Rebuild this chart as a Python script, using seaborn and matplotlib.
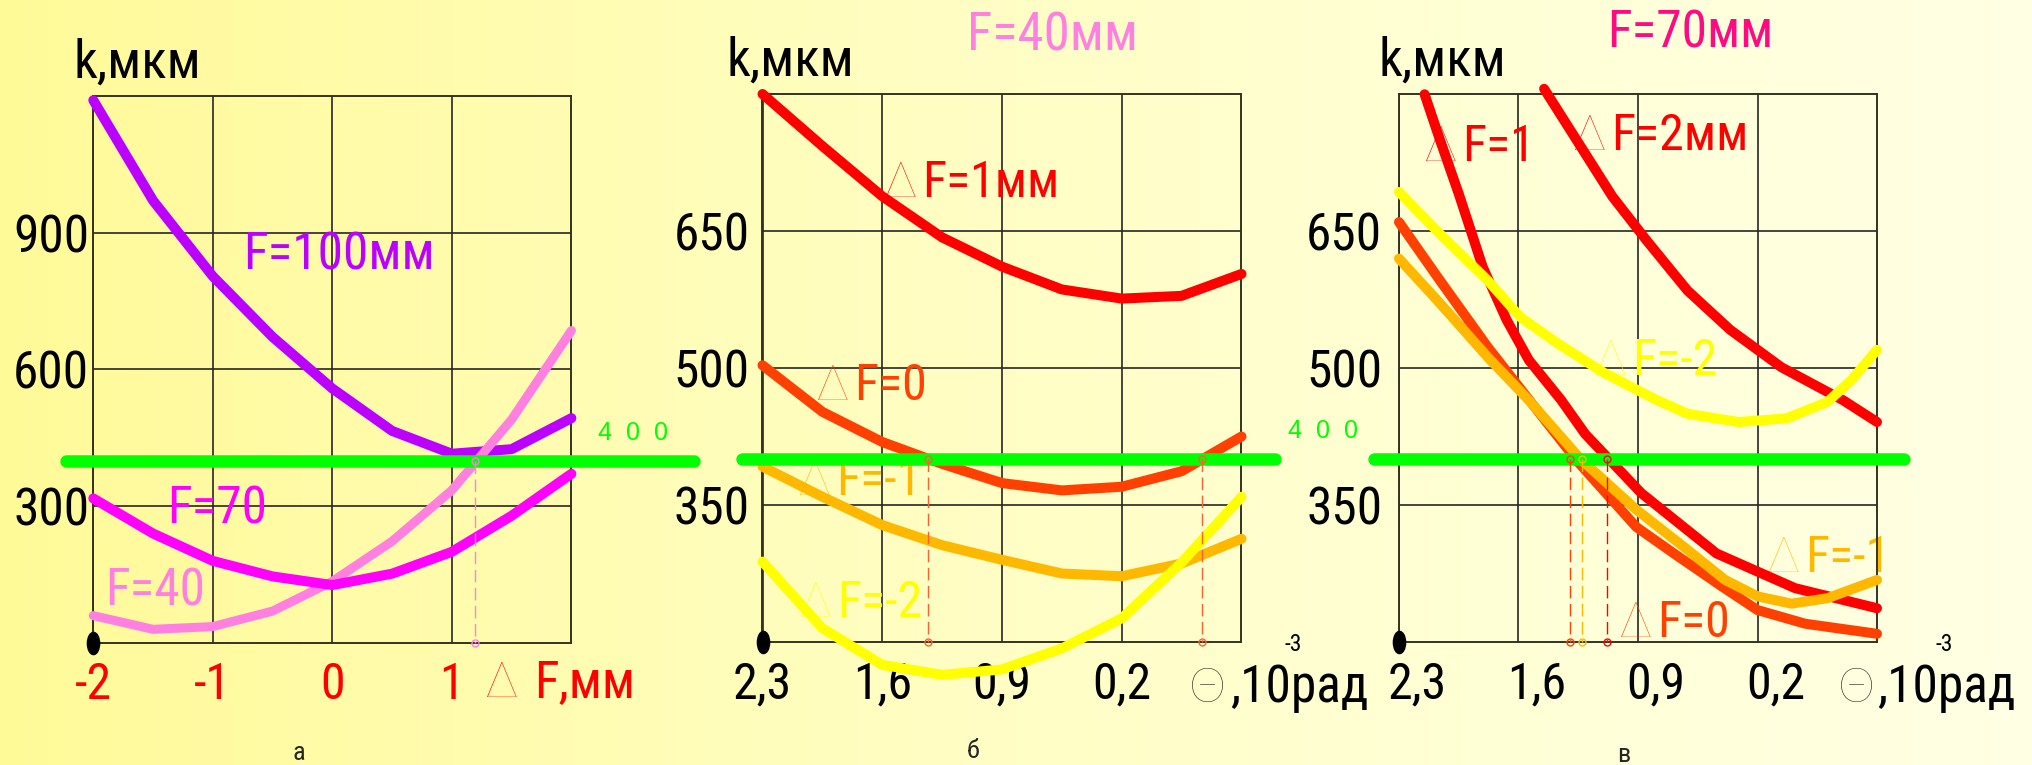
import matplotlib
matplotlib.use('Agg')
import numpy as np
import matplotlib.pyplot as plt
import matplotlib.transforms as mtransforms
from matplotlib import font_manager as fm
from matplotlib.path import Path
from matplotlib.colors import LinearSegmentedColormap
import seaborn as sns

# ---------------- данные, панель а: k(ΔF) ----------------
dF = [-2, -1.5, -1, -0.5, 0, 0.5, 1, 1.5, 2]
k_F100 = [1190, 970, 804, 671, 558, 465, 415, 425, 493]
k_F70 = [317, 240, 180, 146, 127, 152, 200, 279, 371]
k_F40 = [60, 30, 36, 70, 135, 223, 335, 490, 685]
dF_400_a = [1.19]

# ---------------- панель б: F=40 мм, k(Θ) ----------------
theta_b = [2.3, 1.95, 1.6, 1.25, 0.9, 0.55, 0.2, -0.15, -0.5]
b_dF1 = [800, 743, 688, 643, 611, 586, 576, 579, 603]
b_dF0 = [503, 452, 419, 395, 374, 366, 370, 387, 425]
b_dFm1 = [392, 359, 328, 306, 290, 275, 272, 286, 313]
b_dFm2 = [288, 215, 175, 164, 170, 193, 226, 287, 359]
theta_400_b = [1.33, -0.27]

# ---------------- панель в: F=70 мм, k(Θ) ----------------
c_th1 = [2.15, 2.06, 1.95, 1.81, 1.67, 1.54, 1.35, 1.21, 0.88, 0.44, -0.02, -0.5]
c_dF1 = [800, 750, 691, 611, 553, 509, 465, 428, 363, 297, 259, 237]
c_th2 = [1.45, 1.26, 1.05, 0.85, 0.61, 0.36, 0.06, -0.30, -0.5]
c_dF2 = [806, 750, 688, 640, 585, 542, 501, 465, 441]
c_th0 = [2.3, 2.06, 1.78, 1.26, 0.91, 0.69, 0.41, 0.20, -0.08, -0.5]
c_dF0 = [660, 596, 523, 399, 326, 297, 261, 235, 220, 209]
c_thm1 = [2.3, 2.06, 1.78, 1.54, 1.24, 0.91, 0.63, 0.39, 0.20, 0.0, -0.21, -0.5]
c_dFm1 = [620, 571, 512, 465, 401, 345, 304, 268, 250, 242, 248, 268]
c_thm2 = [2.3, 2.06, 1.78, 1.59, 1.37, 1.10, 0.80, 0.61, 0.31, 0.03, -0.21, -0.35, -0.5]
c_dFm2 = [693, 647, 596, 556, 527, 495, 466, 450, 441, 445, 463, 487, 520]
theta_400_c = [1.30, 1.23, 1.08]

LEVEL = 400
a_xticks = [-2, -1, 0, 1]
a_xlabels = ['-2', '-1', '0', '1']
a_yticks = [300, 600, 900]
th_ticks = [2.3, 1.6, 0.9, 0.2]
th_labels = ['2,3', '1,6', '0,9', '0,2']
th_yticks = [350, 500, 650]

C_RED = '#FF0000'
C_RORANGE = '#FF4000'
C_ORANGE = '#FFB800'
C_YELLOW = '#FFFF00'
C_PURPLE = '#BB00FF'
C_MAGENTA = '#FF00FF'
C_PINK = '#FF80E0'
C_GREEN = '#00FF00'

sns.set_style('white')


# узкий шрифт, если он есть; иначе обычный Liberation Sans чуть мельче
def pick_narrow():
    names = {f.name for f in fm.fontManager.ttflist}
    for p in ['Liberation Sans Narrow', 'Arial Narrow', 'Roboto Condensed',
              'Open Sans Condensed', 'Noto Sans Condensed']:
        if p in names:
            return p, 'normal'
    for fam in ['Liberation Sans', 'Roboto', 'Noto Sans', 'Open Sans', 'Inter']:
        for f in fm.fontManager.ttflist:
            if f.name == fam and 'condensed' in str(f.stretch) and f.weight in (400, 'normal', 'regular'):
                return fam, f.stretch
    return None, 'normal'


narrow_name, narrow_stretch = pick_narrow()
if narrow_name:
    NARROW = [narrow_name, 'Liberation Sans', 'DejaVu Sans']
    SCALE = 1.0
else:
    NARROW = ['Liberation Sans', 'DejaVu Sans']
    SCALE = 0.92
THIN = ['Lato', 'DejaVu Sans']
plt.rcParams['font.family'] = NARROW
plt.rcParams['font.stretch'] = narrow_stretch

FS = 37 * SCALE

W, H = 2033, 765
fig = plt.figure(figsize=(W / 100, H / 100), dpi=100)

# фон с градиентом
bg = fig.add_axes([0, 0, 1, 1], zorder=-10)
cmap = LinearSegmentedColormap.from_list('bg', ['#FFFA98', '#FFFDB8', '#FFFFD2', '#FFFFE4'])
bg.imshow(np.linspace(0, 1, 256)[None, :], aspect='auto', cmap=cmap, extent=[0, 1, 0, 1])
bg.axis('off')


def box(left, right, top, bottom):
    return [left / W, (H - bottom) / H, (right - left) / W, (bottom - top) / H]


ax_a = fig.add_axes(box(93.3, 571.4, 95.7, 643))
ax_b = fig.add_axes(box(762.5, 1241.5, 94, 642))
ax_c = fig.add_axes(box(1399, 1877, 94.3, 642))

dot = Path(Path.unit_circle().vertices * [0.55, 1.0], Path.unit_circle().codes)


def style(ax, xlim, ylim, xt, xl, yt, xcolor, ypad, klabel_x, xshift=0):
    ax.set_facecolor('none')
    ax.set_xlim(*xlim)
    ax.set_ylim(*ylim)
    ax.set_xticks(xt, xl)
    ax.set_yticks(yt, [str(v) for v in yt])
    ax.tick_params(axis='x', length=0, pad=13, labelsize=FS - 1, labelcolor=xcolor)
    ax.tick_params(axis='y', length=0, pad=ypad, labelsize=FS, labelcolor='black')
    ax.grid(True, color='#262626', lw=1.2)
    for s in ax.spines.values():
        s.set_visible(True)
        s.set_color('#333322')
        s.set_linewidth(1.4)
    if xshift:
        off = mtransforms.ScaledTranslation(xshift / 100, 0, fig.dpi_scale_trans)
        for lab in ax.get_xticklabels():
            lab.set_transform(lab.get_transform() + off)
    ax.set_xlabel('')
    ax.set_ylabel('')
    ax.plot([xlim[0]], [ylim[0]], marker=dot, ms=16, color='black', clip_on=False, zorder=7)
    ax.text(klabel_x, 1.034, 'k,мкм', transform=ax.transAxes,
            fontsize=FS + 1, ha='left', va='baseline', color='black')


def curve(ax, x, y, color, lw=7.2, z=3):
    sns.lineplot(x=x, y=y, ax=ax, color=color, lw=lw, sort=False, estimator=None,
                 solid_capstyle='round', solid_joinstyle='round', clip_on=False, zorder=z)


def threshold(ax, x0, x1, ymin, xs, colors, label_pos=None):
    ax.axhline(LEVEL, xmin=x0, xmax=x1, color=C_GREEN, lw=9, solid_capstyle='round',
               clip_on=False, zorder=4)
    for xc, c in zip(xs, colors):
        ax.plot([xc, xc], [LEVEL, ymin], ls=(0, (9, 4)), lw=1, color=c, zorder=5, clip_on=False)
        ax.plot([xc, xc], [LEVEL, ymin], ls='none', marker='o', ms=5, mfc='none', mec=c,
                mew=1, zorder=6, clip_on=False)
    if label_pos is not None:
        ax.text(label_pos[0], label_pos[1], '4  0  0', color=C_GREEN, fontsize=18,
                fontfamily=['Liberation Sans', 'DejaVu Sans'], fontstretch='normal',
                transform=mtransforms.blended_transform_factory(ax.transAxes, ax.transData),
                ha='left', va='baseline')


def dlabel(ax, x, y, text, color):
    ax.annotate('Δ', xy=(x, y), xytext=(-2, 0), textcoords='offset points', ha='right',
                va='baseline', color=color, fontsize=FS - 1, fontfamily=THIN, fontweight=100,
                zorder=1)
    ax.annotate(text, xy=(x, y), xytext=(2, 0), textcoords='offset points', ha='left',
                va='baseline', color=color, fontsize=FS - 1, zorder=1)


def xlabel_theta(ax, xth, xtext, sup_x):
    ax.text(xth, -0.109, 'Θ', transform=ax.transAxes, ha='right', va='baseline',
            fontsize=34, fontfamily=THIN, fontweight=100, color='black')
    ax.text(xtext, -0.109, ',10рад', transform=ax.transAxes, ha='left', va='baseline',
            fontsize=FS, color='black')
    ax.text(sup_x, -0.017, '-3', transform=ax.transAxes, ha='left', va='baseline',
            fontsize=17, color='black')


# ---------------- панель а ----------------
style(ax_a, (-2, 2), (0, 1200), a_xticks, a_xlabels, a_yticks, C_RED, 3, -0.042)
curve(ax_a, dF, k_F100, C_PURPLE)
curve(ax_a, dF, k_F40, C_PINK, lw=6.5)
curve(ax_a, dF, k_F70, C_MAGENTA)
threshold(ax_a, -0.057, 1.256, 0, dF_400_a, [C_PINK], label_pos=(1.056, 445))
ax_a.text(-0.747, 818, 'F=100мм', color=C_PURPLE, fontsize=FS, ha='left', va='baseline', zorder=1)
ax_a.text(-1.383, 263, 'F=70', color=C_MAGENTA, fontsize=FS, ha='left', va='baseline', zorder=1)
ax_a.text(-1.902, 83, 'F=40', color=C_PINK, fontsize=FS, ha='left', va='baseline', zorder=1)
ax_a.text(0.887, -0.099, 'Δ', transform=ax_a.transAxes, ha='right', va='baseline',
          color=C_RED, fontsize=36, fontfamily=THIN, fontweight=100)
ax_a.text(0.922, -0.099, 'F,мм', transform=ax_a.transAxes, ha='left', va='baseline',
          color=C_RED, fontsize=FS)
ax_a.text(0.43, -0.214, 'а', transform=ax_a.transAxes, ha='center', va='baseline', fontsize=19)

# ---------------- панель б ----------------
style(ax_b, (2.3, -0.5), (200, 800), th_ticks, th_labels, th_yticks, 'black', 9, -0.076)
curve(ax_b, theta_b, b_dF1, C_RED)
curve(ax_b, theta_b, b_dF0, C_RORANGE)
curve(ax_b, theta_b, b_dFm1, C_ORANGE)
curve(ax_b, theta_b, b_dFm2, C_YELLOW)
threshold(ax_b, -0.043, 1.070, 200, theta_400_b, ['#FF6030', '#FF6030'], label_pos=(1.097, 423))
dlabel(ax_b, 1.382, 687, 'F=1мм', C_RED)
dlabel(ax_b, 1.783, 465, 'F=0', C_RORANGE)
dlabel(ax_b, 1.888, 361, 'F=-1', C_ORANGE)
dlabel(ax_b, 1.882, 227, 'F=-2', C_YELLOW)
ax_b.text(0.427, 1.080, 'F=40мм', transform=ax_b.transAxes, color=C_PINK, fontsize=FS + 1,
          ha='left', va='baseline')
xlabel_theta(ax_b, 0.968, 0.976, 1.089)
ax_b.text(0.44, -0.212, 'б', transform=ax_b.transAxes, ha='center', va='baseline', fontsize=19)

# ---------------- панель в ----------------
style(ax_c, (2.3, -0.5), (200, 800), th_ticks, th_labels, th_yticks, 'black', 12, -0.042,
      xshift=18)
curve(ax_c, c_th1, c_dF1, C_RED)
curve(ax_c, c_th2, c_dF2, C_RED)
curve(ax_c, c_th0, c_dF0, C_RORANGE)
curve(ax_c, c_thm1, c_dFm1, C_ORANGE)
curve(ax_c, c_thm2, c_dFm2, C_YELLOW)
threshold(ax_c, -0.052, 1.056, 200, theta_400_c, [C_RORANGE, C_ORANGE, C_RED])
dlabel(ax_c, 1.948, 727, 'F=1', C_RED)
dlabel(ax_c, 1.076, 739, 'F=2мм', C_RED)
dlabel(ax_c, 0.953, 492, 'F=-2', C_YELLOW)
dlabel(ax_c, -0.061, 277, 'F=-1', C_ORANGE)
dlabel(ax_c, 0.806, 205, 'F=0', C_RORANGE)
ax_c.text(0.435, 1.086, 'F=70мм', transform=ax_c.transAxes, color='#FF0A82', fontsize=FS,
          ha='left', va='baseline')
xlabel_theta(ax_c, 0.996, 1.0, 1.123)
ax_c.text(0.471, -0.219, 'в', transform=ax_c.transAxes, ha='center', va='baseline', fontsize=19)

fig.savefig('out.png', dpi=100)
